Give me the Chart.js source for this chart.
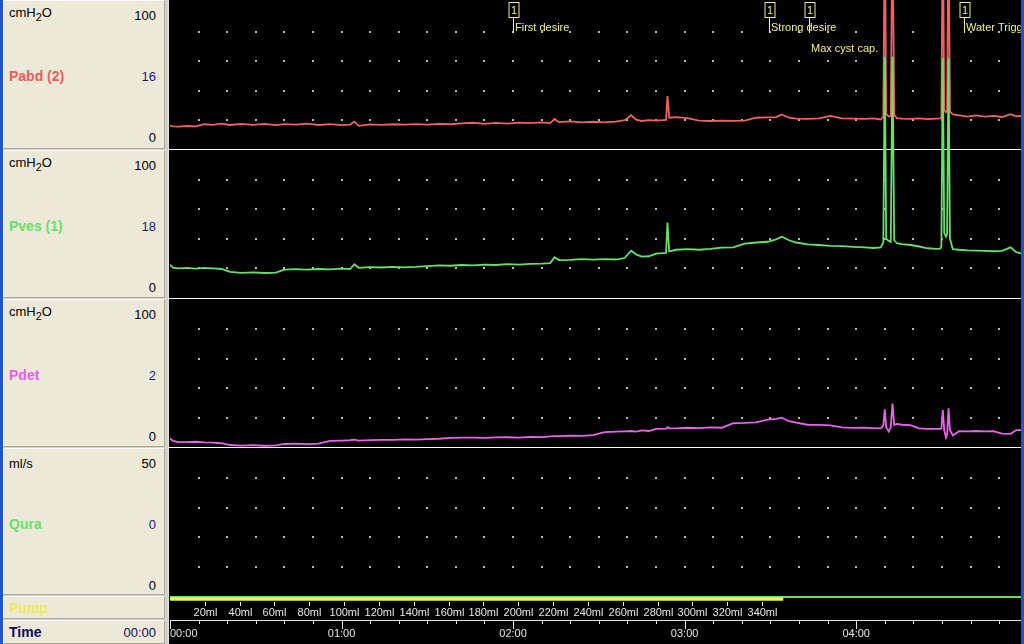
<!DOCTYPE html>
<html>
<head>
<meta charset="utf-8">
<script src="https://cdn.jsdelivr.net/npm/chart.js@4"></script>
<style>
  body { margin: 0; width: 1024px; height: 644px; overflow: hidden; position: relative; background: #000; font-family: Arial, "Liberation Sans", sans-serif; }
  #left { position: absolute; left: 0; top: 0; width: 168px; height: 644px; background: #d6d2c2; }
  .box { position: absolute; left: 3px; width: 162px; background: #ece9d8; border-top: 1px solid #fff; border-left: 1px solid #fff; border-right: 1px solid #aca899; border-bottom: 1px solid #aca899; box-sizing: border-box; }
  .t { position: absolute; font-size: 13px; line-height: 15px; white-space: nowrap; transform: translateY(-50%); color: #000; }
  .t.r { right: 8px; }
  .t.l { left: 5px; }
  .name { font-weight: bold; font-size: 14px; }
  .cur { color: #1c1c78; }
  .sep { position: absolute; left: 169px; width: 852px; height: 1px; background: #fff; }
  canvas { position: absolute; left: 170px; }
</style>
</head>
<body>
<div id="left"></div>
<div style="position:absolute;left:168px;top:0;width:1px;height:644px;background:#e0e0e0"></div>
<div class="sep" style="top:149px"></div>
<div class="sep" style="top:298px"></div>
<div class="sep" style="top:447px"></div>

<canvas id="cPabd" width="852" height="150" style="top:0"></canvas>
<canvas id="cPves" width="852" height="298" style="top:0"></canvas>
<canvas id="cPdet" width="852" height="149" style="top:299px"></canvas>
<canvas id="cQura" width="852" height="152" style="top:448px"></canvas>
<canvas id="cPump" width="852" height="50" style="top:594px"></canvas>

<div style="position:absolute;left:0;top:0;width:3px;height:644px;background:#2353d0"></div>
<div style="position:absolute;left:1021px;top:0;width:3px;height:644px;background:#2353d0"></div>

<script>
// sample times (seconds from start)
const timeSec = [
  0, 1, 3, 6, 9, 12, 15, 18, 21, 25,
  29, 33, 37, 40, 44, 48, 52, 56, 60, 63,
  64.5, 66, 70, 74, 78, 82, 86, 90, 94, 98,
  102, 106, 110, 114, 118, 122, 126, 130, 133, 134.5,
  136, 140, 144, 148, 152, 156, 159, 161.3, 163, 165,
  167.5, 170, 173.5, 174, 174.6, 177, 181, 185, 189, 193,
  197, 201, 205, 209, 212, 214, 216.5, 219, 223, 227,
  231, 235, 239, 243, 246, 248.6, 249.5, 250, 250.5, 251.4,
  252.1, 252.7, 253.3, 254.2, 256, 259, 262, 265, 268, 269.4,
  269.8, 270.3, 270.8, 271.4, 271.8, 272.3, 272.8, 273.8, 276, 279,
  282, 285, 288, 291, 294, 296, 298
];

// cmH2O
const pabdValues = [
  16.4, 16.0, 15.8, 16.2, 16.0, 17.4, 17.0, 17.8, 16.9, 17.6,
  17.0, 17.7, 16.8, 17.5, 17.1, 17.8, 16.9, 17.5, 16.8, 17.2,
  19.2, 16.3, 17.3, 17.0, 17.4, 17.1, 17.5, 17.2, 17.6, 17.4,
  18.0, 18.4, 17.7, 18.3, 17.8, 18.5, 18.1, 18.6, 18.2, 21.0,
  18.8, 19.3, 18.6, 19.1, 18.7, 19.2, 20.2, 23.5, 20.5, 19.6,
  20.2, 19.8, 20.4, 36.5, 21.8, 22.2, 21.6, 19.9, 19.6, 19.8,
  19.7, 19.8, 21.8, 22.0, 22.2, 24.0, 21.8, 21.2, 21.0, 21.3,
  23.0, 21.4, 21.2, 21.0, 21.3, 20.6, 22.5, 160, 24.5, 22.5,
  23.0, 160, 24.0, 21.5, 21.2, 21.0, 21.3, 20.9, 21.2, 21.4,
  22.0, 160, 27.0, 25.5, 27.0, 160, 26.0, 24.0, 23.4, 22.6,
  23.4, 22.5, 23.0, 22.3, 24.2, 22.8, 23.0
];

const pvesValues = [
  22.5, 20.5, 20.0, 20.3, 19.8, 20.4, 20.0, 19.6, 17.6, 17.0,
  17.3, 16.9, 17.2, 19.2, 19.5, 19.2, 19.6, 19.3, 19.8, 19.6,
  22.8, 20.4, 20.8, 20.6, 21.0, 20.7, 21.0, 21.6, 22.0, 21.8,
  22.3, 22.0, 22.6, 22.3, 22.9, 22.6, 23.0, 23.2, 23.6, 27.5,
  25.6, 25.8, 26.2, 25.9, 26.3, 26.0, 27.0, 32.0, 29.5, 28.0,
  28.2, 30.0, 30.4, 51.0, 31.5, 32.6, 33.0, 32.6, 33.2, 34.0,
  34.2, 36.8, 37.5, 38.0, 39.6, 41.4, 39.0, 37.5, 36.2, 35.8,
  35.2, 35.0, 34.6, 34.2, 33.8, 34.2, 37.5, 163, 40.0, 38.6,
  38.0, 163, 39.0, 37.0, 36.4, 35.8, 34.8, 33.6, 33.2, 33.4,
  35.0, 162, 44.0, 41.5, 43.0, 162, 40.0, 33.0, 32.6, 32.2,
  32.0, 31.8, 31.6, 31.8, 34.2, 31.0, 30.0
];

const pdetValues = [
  6.6, 4.8, 4.0, 3.9, 4.2, 3.8, 3.6, 3.2, 2.0, 1.6,
  1.9, 1.5, 1.8, 2.7, 2.9, 2.6, 3.0, 4.8, 5.0, 5.2,
  5.6, 5.0, 5.3, 5.5, 5.4, 5.8, 5.6, 6.0, 6.2, 6.8,
  6.9, 7.0, 6.8, 7.1, 7.2, 7.0, 7.4, 7.3, 7.8, 8.0,
  8.0, 8.3, 8.1, 8.6, 10.6, 11.0, 11.2, 11.4, 11.0, 11.8,
  11.4, 12.8, 13.0, 14.0, 13.4, 13.2, 13.6, 13.3, 13.8, 13.6,
  16.6, 16.8, 17.2, 19.0, 19.6, 20.4, 18.0, 17.0, 15.6, 15.5,
  15.2, 13.8, 13.5, 13.6, 13.4, 13.2, 15.0, 26.0, 14.0, 11.0,
  14.0, 29.8, 15.5, 16.2, 15.6, 15.4, 13.2, 12.8, 12.9, 12.9,
  13.2, 25.5, 12.0, 7.0, 9.0, 26.6, 12.0, 8.4, 11.3, 11.2,
  11.4, 11.2, 11.3, 9.6, 9.5, 12.0, 12.0
];

// flow ml/s (no voiding)
const quraTimes = [0, 298];
const quraValues = [0, 0];

// pump running while filling
const pumpTimes = [0, 214.5];
const pumpOn = [1, 1];
const infusionRate = 1.642; // ml/s
const volumeTicks = [20, 40, 60, 80, 100, 120, 140, 160, 180, 200, 220, 240, 260, 280, 300, 320, 340];

const timeTicks = [0, 60, 120, 180, 240];
const timeLabels = ['00:00', '01:00', '02:00', '03:00', '04:00'];
const xMax = 298;

// event markers
const markerTimes = [119.8, 209.5, 223.6, 277.7];
const markerNums = ['1', '1', '1', '1'];
const markerLabels = ['First desire', 'Strong desire', 'Max cyst cap.', 'Water Trigger'];
const markerRows = [0, 0, 1, 0];

// left panel
const channelNames = ['Pabd (2)', 'Pves (1)', 'Pdet', 'Qura'];
const channelUnits = ['cmH<sub>2</sub>O', 'cmH<sub>2</sub>O', 'cmH<sub>2</sub>O', 'ml/s'];
const channelMax = [100, 100, 100, 50];
const channelCursor = [16, 18, 2, 0];
const channelColors = ['#f05a5a', '#66e066', '#ec5cec', '#66e066'];

// build the left label column
const left = document.getElementById('left');
const boxTops = [0, 150, 299, 448];
const boxHeights = [149, 148, 148, 147];
function addText(parent, html, cls, top, color) {
  const d = document.createElement('div');
  d.className = 't ' + cls;
  d.innerHTML = html;
  d.style.top = top + 'px';
  if (color) d.style.color = color;
  parent.appendChild(d);
}
channelNames.forEach((name, i) => {
  const box = document.createElement('div');
  box.className = 'box';
  box.style.top = boxTops[i] + 'px';
  box.style.height = boxHeights[i] + 'px';
  left.appendChild(box);
  addText(box, channelUnits[i], 'l', 14);
  addText(box, channelMax[i], 'r', 14);
  addText(box, name, 'l name', 75, channelColors[i]);
  addText(box, channelCursor[i], 'r cur', 75);
  addText(box, 0, 'r', 136);
});
const pumpBox = document.createElement('div');
pumpBox.className = 'box';
pumpBox.style.top = '596px';
pumpBox.style.height = '23px';
left.appendChild(pumpBox);
addText(pumpBox, 'Pump', 'l name', 11, '#eeea58');
const timeBox = document.createElement('div');
timeBox.className = 'box';
timeBox.style.top = '620px';
timeBox.style.height = '24px';
left.appendChild(timeBox);
addText(timeBox, 'Time', 'l name', 11, '#0c0c64');
addText(timeBox, '00:00', 'r', 11, '#0c0c64');

function toPoints(xs, ys) {
  return xs.map((t, i) => ({ x: t, y: ys[i] }));
}

// dotted grid: one dot per 10 s and per y step
const dotGrid = {
  id: 'dotGrid',
  beforeDatasetsDraw(chart, args, opts) {
    if (!opts.yStep) return;
    const { ctx, scales: { x, y } } = chart;
    ctx.save();
    ctx.fillStyle = '#b8b8b8';
    for (let t = 10; t < xMax; t += 10) {
      const px = Math.round(x.getPixelForValue(t));
      for (let v = opts.yStep; v < y.max; v += opts.yStep) {
        const py = Math.round(y.getPixelForValue(v));
        ctx.fillRect(px - 1, py - 1, 2, 2);
      }
    }
    ctx.restore();
  }
};

const markerPlugin = {
  id: 'markers',
  afterDatasetsDraw(chart) {
    const { ctx, scales: { x } } = chart;
    ctx.save();
    ctx.font = '11px Arial, "Liberation Sans"';
    ctx.textBaseline = 'middle';
    ctx.lineWidth = 1;
    markerTimes.forEach((t, i) => {
      const px = Math.round(x.getPixelForValue(t)) + 0.5;
      ctx.fillStyle = '#000';
      ctx.fillRect(px - 4.5, 2.5, 10, 15);
      ctx.strokeStyle = '#f0f08c';
      ctx.strokeRect(px - 4.5, 2.5, 10, 15);
      ctx.fillStyle = '#f0f08c';
      ctx.textAlign = 'center';
      ctx.fillText(markerNums[i], px + 0.5, 10.5);
      ctx.beginPath();
      ctx.moveTo(px, 17.5);
      ctx.lineTo(px, 33);
      ctx.stroke();
      ctx.textAlign = 'left';
      ctx.fillText(markerLabels[i], px + 1.5, markerRows[i] ? 49 : 28);
    });
    ctx.restore();
  }
};

// volume and time axes under the pump trace
const bottomAxes = {
  id: 'bottomAxes',
  afterDatasetsDraw(chart) {
    const { ctx, scales: { x } } = chart;
    ctx.save();
    ctx.strokeStyle = '#e6e6e6';
    ctx.fillStyle = '#e6e6e6';
    ctx.lineWidth = 1;
    ctx.font = '11px Arial, "Liberation Sans"';
    ctx.textBaseline = 'middle';
    ctx.textAlign = 'center';
    volumeTicks.forEach(v => {
      const px = Math.round(x.getPixelForValue(v / infusionRate)) + 0.5;
      ctx.beginPath();
      ctx.moveTo(px, 8);
      ctx.lineTo(px, 12);
      ctx.stroke();
      ctx.fillText(v + 'ml', px, 19);
    });
    ctx.beginPath();
    ctx.moveTo(0, 26.5);
    ctx.lineTo(x.right, 26.5);
    ctx.stroke();
    for (let t = 0; t <= xMax; t += 10) {
      const px = Math.round(x.getPixelForValue(t)) + 0.5;
      ctx.beginPath();
      ctx.moveTo(px, 27);
      ctx.lineTo(px, t % 60 === 0 ? 35 : 30);
      ctx.stroke();
    }
    timeTicks.forEach((t, i) => {
      ctx.textAlign = i === 0 ? 'left' : 'center';
      ctx.fillText(timeLabels[i], x.getPixelForValue(t), 40);
    });
    ctx.restore();
  }
};

function makeChart(id, datasets, yMax, padding, yStep, extra) {
  return new Chart(document.getElementById(id), {
    type: 'line',
    data: { datasets: datasets },
    options: {
      responsive: false,
      animation: false,
      events: [],
      layout: { padding: padding },
      scales: {
        x: { type: 'linear', min: 0, max: xMax, display: false },
        y: { min: 0, max: yMax, display: false }
      },
      elements: { point: { radius: 0 }, line: { tension: 0 } },
      plugins: {
        legend: { display: false },
        tooltip: { enabled: false },
        dotGrid: { yStep: yStep }
      }
    },
    plugins: [dotGrid].concat(extra || [])
  });
}

makeChart('cPabd', [{
  data: toPoints(timeSec, pabdValues), borderColor: '#f06262', borderWidth: 1.8, clip: false
}], 100, { top: 2 }, 20, [markerPlugin]);

makeChart('cPves', [{
  data: toPoints(timeSec, pvesValues), borderColor: '#66e066', borderWidth: 1.8, clip: false
}], 100, { top: 150 }, 20);

makeChart('cPdet', [{
  data: toPoints(timeSec, pdetValues), borderColor: '#ec62ec', borderWidth: 1.8, clip: false
}], 100, 0, 20);

makeChart('cQura', [{
  data: toPoints(quraTimes, quraValues), borderColor: '#66e066', borderWidth: 2, clip: false
}], 50, { bottom: 3 }, 10);

makeChart('cPump', [{
  data: toPoints(pumpTimes, pumpOn), borderColor: '#f2f25a', borderWidth: 3.5, clip: false, borderCapStyle: 'butt'
}], 2, { bottom: 40 }, 0, [bottomAxes]);
</script>
</body>
</html>
